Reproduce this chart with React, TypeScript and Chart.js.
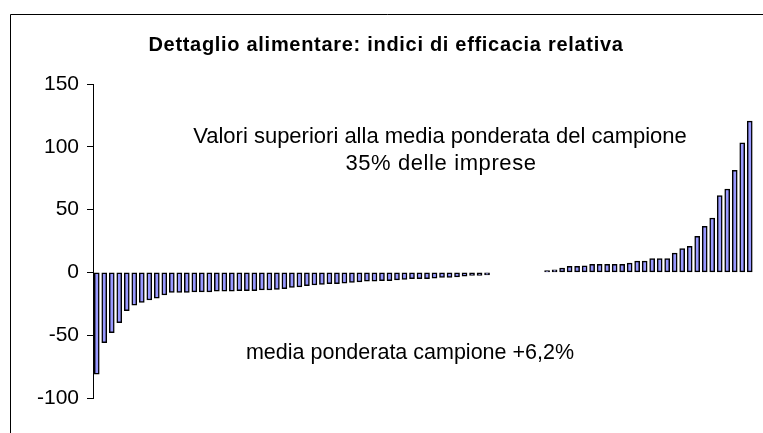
import React, { useEffect, useRef } from "react";
import { Chart, registerables } from "chart.js";

Chart.register(...registerables);

// ---- data ----
const negativeValues: number[] = [
  -81, -56, -48, -40, -30.5, -26, -24, -22, -20.5, -18,
  -16, -16, -16, -15.5, -15.5, -15.5, -15, -15, -15, -14.5,
  -14.5, -14.5, -14, -14, -13.5, -13, -12, -11.5, -10.5, -10,
  -9.5, -9, -9, -8.5, -8, -7.5, -7, -7, -6.5, -6.5,
  -6, -5.5, -5, -5, -5, -4.5, -4, -4, -3.5, -3,
  -2.5, -2.5, -2,
];
const gapValues: (number | null)[] = [null, null, null, null, null, null, null];
const positiveValues: number[] = [
  1.5, 2, 3.5, 4.8, 4.8, 5.3, 6.4, 6.4, 6.4, 6.4,
  6.4, 7.4, 9, 9, 11, 11, 11, 15.4, 19, 20.7,
  28.7, 36.6, 43.3, 61.1, 66.4, 81.2, 103.2, 120.5,
];
const yTicks: number[] = [-100, -50, 0, 50, 100, 150];

const titleText = "Dettaglio alimentare: indici di efficacia relativa";
const noteAbove1 = "Valori superiori alla media ponderata del campione";
const noteAbove2 = "35% delle imprese";
const noteBelow = "media ponderata campione +6,2%";

const allValues: (number | null)[] = [...negativeValues, ...gapValues, ...positiveValues];
const categories: string[] = allValues.map((_, i) => String(i + 1));

const FONT = "'Liberation Sans', Arial, sans-serif";

export default function App() {
  const canvasRef = useRef<HTMLCanvasElement | null>(null);

  useEffect(() => {
    const canvas = canvasRef.current;
    if (!canvas) return;

    const textPlugin = {
      id: "textPlugin",
      beforeDraw(chart: any) {
        const ctx = chart.ctx as CanvasRenderingContext2D;
        ctx.save();
        ctx.fillStyle = "#ffffff";
        ctx.fillRect(0, 0, chart.width, chart.height);
        // frame (chart area border)
        ctx.strokeStyle = "#000000";
        ctx.lineWidth = 1;
        ctx.beginPath();
        ctx.moveTo(10.5, chart.height + 5);
        ctx.lineTo(10.5, 14.5);
        ctx.lineTo(chart.width + 5, 14.5);
        ctx.stroke();
        ctx.restore();
      },
      afterDraw(chart: any) {
        const ctx = chart.ctx as any;
        const ys = chart.scales.y;
        ctx.save();
        ctx.fillStyle = "#000000";
        ctx.textAlign = "center";
        ctx.textBaseline = "middle";
        ctx.font = `bold 20px ${FONT}`;
        ctx.letterSpacing = "0.7px";
        ctx.fillText(titleText, 386, 45);
        ctx.font = `22px ${FONT}`;
        ctx.letterSpacing = "0px";
        ctx.fillText(noteAbove1, 440, ys.getPixelForValue(108));
        ctx.letterSpacing = "0.6px";
        ctx.fillText(noteAbove2, 441, ys.getPixelForValue(86.5));
        ctx.font = `21.5px ${FONT}`;
        ctx.letterSpacing = "0px";
        ctx.fillText(noteBelow, 410, ys.getPixelForValue(-64.5));
        ctx.restore();
      },
    };

    const chart = new Chart(canvas, {
      type: "bar",
      data: {
        labels: categories,
        datasets: [
          {
            data: allValues,
            backgroundColor: "#9999ff",
            borderColor: "#000000",
            borderWidth: 1.5,
            borderSkipped: false,
            barThickness: 5,
          },
        ],
      },
      options: {
        animation: false,
        responsive: false,
        maintainAspectRatio: false,
        events: [],
        layout: { padding: { left: 0, right: 9.5, top: 84, bottom: 35 } },
        plugins: {
          legend: { display: false },
          title: { display: false },
          tooltip: { enabled: false },
        },
        scales: {
          x: {
            type: "category",
            display: false,
            offset: true,
          },
          y: {
            type: "linear",
            min: -100,
            max: 150,
            afterFit(scale: any) {
              scale.width = 93;
            },
            afterBuildTicks(scale: any) {
              scale.ticks = yTicks.map((v) => ({ value: v }));
            },
            grid: {
              display: true,
              drawOnChartArea: false,
              drawTicks: true,
              tickLength: 6,
              color: "#000000",
            },
            border: { display: true, color: "#000000", width: 1 },
            ticks: {
              color: "#000000",
              padding: 8,
              font: { family: FONT, size: 21 },
            },
          },
        },
      },
      plugins: [textPlugin],
    });

    return () => {
      chart.destroy();
    };
  }, []);

  return (
    <div style={{ position: "fixed", left: 0, top: 0, width: 763, height: 433, background: "#fff" }}>
      <canvas ref={canvasRef} width={763} height={433} style={{ display: "block", width: 763, height: 433 }} />
    </div>
  );
}
